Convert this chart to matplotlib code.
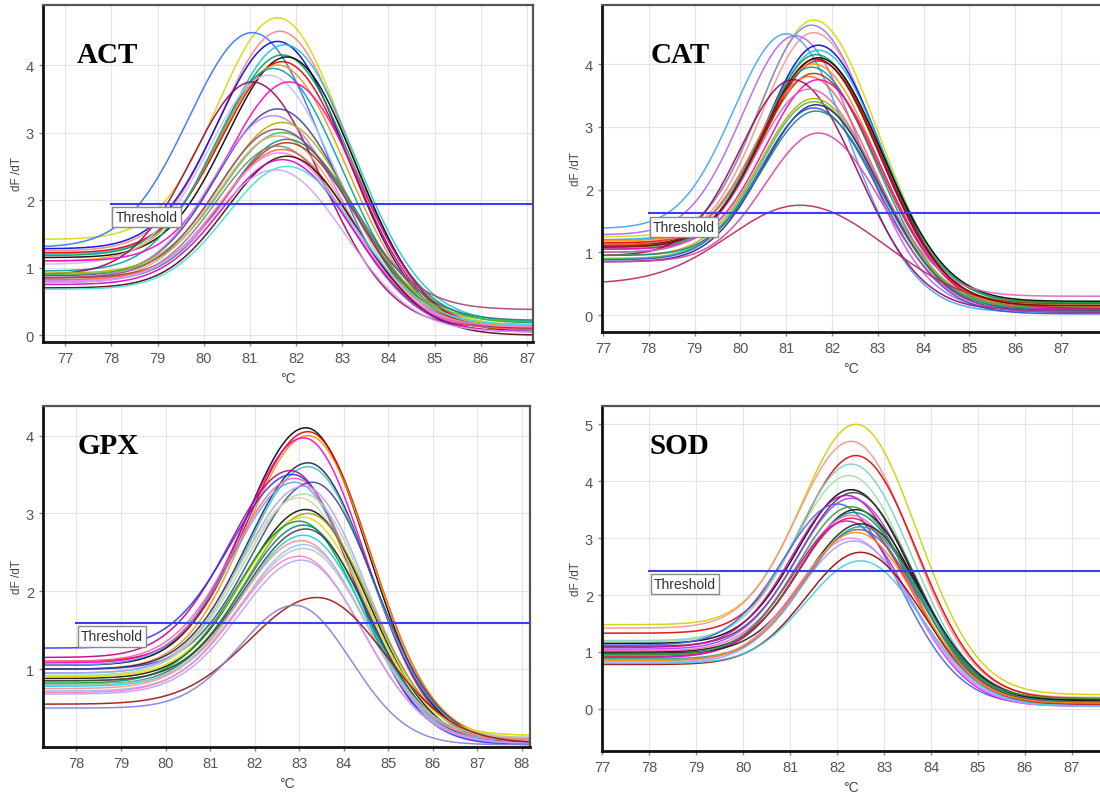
import numpy as np
import matplotlib
matplotlib.use("Agg")
import matplotlib.pyplot as plt

# melt peak parameters: peak temp, peak height,
# left baseline, right tail level, width factor
ACT_TM = [81.6, 81.05, 81.65, 81.6, 81.75, 81.7, 81.8, 81.7, 81.6, 81.5, 81.4, 81.05, 81.85, 81.6,
          81.5, 81.7, 81.7, 81.6, 81.8, 81.8, 81.6, 81.7, 81.65, 81.8, 81.7, 81.8, 81.55, 81.6]
ACT_PEAK = [4.70, 4.48, 4.50, 4.35, 4.30, 4.15, 4.12, 4.05, 4.00, 3.95, 3.85, 3.75, 3.75, 3.35,
            3.25, 3.15, 3.00, 2.95, 2.90, 2.85, 2.80, 2.75, 2.70, 2.65, 2.60, 2.50, 2.45, 3.05]
ACT_BASE = [1.42, 1.30, 1.25, 1.28, 1.20, 1.18, 1.15, 1.22, 1.10, 0.95, 1.05, 0.90, 1.10, 0.88,
            0.85, 0.92, 0.90, 0.82, 0.80, 0.85, 0.78, 0.82, 0.80, 0.70, 0.75, 0.68, 0.78, 0.85]
ACT_TAIL = [0.15, 0.10, 0.12, 0.08, 0.20, 0.18, 0.05, 0.10, 0.12, 0.15, 0.10, 0.12, 0.08, 0.10,
            0.05, 0.12, 0.20, 0.15, 0.22, 0.10, 0.05, 0.08, 0.12, 0.00, 0.05, 0.15, 0.05, 0.38]
ACT_WIDTH = [1.0, 1.05, 1.0, 1.0, 1.0, 1.0, 1.0, 1.0, 1.0, 1.0, 1.0, 1.0, 1.0, 1.0,
             1.0, 1.0, 1.0, 1.0, 1.0, 1.0, 1.0, 1.0, 1.0, 1.0, 1.0, 1.0, 1.0, 1.0]
ACT_THRESHOLD = 1.94

CAT_TM = [81.6, 81.55, 81.6, 81.0, 81.2, 81.7, 81.7, 81.65, 81.7, 81.7, 81.6, 81.55, 81.6,
          81.5, 81.7, 81.15, 81.6, 81.6, 81.65, 81.6, 81.65, 81.7, 81.3, 81.5, 81.65]
CAT_PEAK = [4.70, 4.62, 4.50, 4.48, 4.45, 4.30, 4.22, 4.15, 4.10, 4.05, 4.00, 3.95, 3.85,
            3.80, 3.75, 3.75, 3.45, 3.40, 3.35, 3.30, 3.25, 2.90, 1.75, 3.60, 4.08]
CAT_BASE = [1.25, 1.20, 1.15, 1.38, 1.28, 1.10, 1.20, 1.05, 1.12, 1.15, 1.18, 1.00, 1.10,
            1.12, 1.05, 0.95, 0.95, 0.90, 0.85, 0.88, 0.95, 0.85, 0.50, 1.00, 1.08]
CAT_TAIL = [0.20, 0.10, 0.15, 0.05, 0.08, 0.05, 0.18, 0.20, 0.22, 0.12, 0.15, 0.10, 0.18,
            0.12, 0.10, 0.08, 0.15, 0.12, 0.05, 0.02, 0.08, 0.05, 0.10, 0.30, 0.15]
CAT_WIDTH = [1.0, 1.0, 1.0, 1.0, 1.0, 1.0, 1.0, 1.0, 1.0, 1.0, 1.0, 1.0, 1.0,
             1.0, 1.0, 1.0, 1.0, 1.0, 1.0, 1.0, 1.0, 1.0, 1.35, 1.0, 1.0]
CAT_THRESHOLD = 1.62

GPX_TM = [83.15, 83.2, 83.2, 83.1, 83.2, 83.2, 82.8, 82.85, 82.9, 82.9, 83.3, 83.1, 83.1, 83.0,
          83.15, 83.2, 83.1, 83.0, 83.1, 83.15, 83.1, 83.05, 83.1, 83.1, 83.0, 83.05, 83.4, 82.9]
GPX_PEAK = [4.10, 4.05, 4.00, 3.97, 3.65, 3.60, 3.55, 3.50, 3.45, 3.40, 3.40, 3.35, 3.25, 3.20,
            3.05, 3.00, 2.95, 2.90, 2.85, 2.80, 2.72, 2.65, 2.60, 2.55, 2.45, 2.40, 1.92, 1.82]
GPX_BASE = [1.05, 1.10, 1.00, 1.08, 1.00, 0.95, 1.15, 1.27, 1.10, 1.05, 1.00, 0.95, 0.92, 0.90,
            0.88, 0.85, 0.90, 0.82, 0.80, 0.85, 0.78, 0.75, 0.72, 0.80, 0.70, 0.68, 0.55, 0.50]
GPX_TAIL = [0.05, 0.08, 0.10, 0.05, 0.05, 0.10, 0.05, 0.03, 0.08, 0.05, 0.08, 0.10, 0.12, 0.15,
            0.05, 0.10, 0.15, 0.08, 0.05, 0.05, 0.08, 0.10, 0.05, 0.12, 0.08, 0.05, 0.05, 0.03]
GPX_WIDTH = [1.0, 1.0, 1.0, 1.0, 1.0, 1.0, 1.0, 1.0, 1.0, 1.0, 1.0, 1.0, 1.0, 1.0,
             1.0, 1.0, 1.0, 1.0, 1.0, 1.0, 1.0, 1.0, 1.0, 1.0, 1.0, 1.0, 1.1, 0.9]
GPX_THRESHOLD = 1.59

SOD_TM = [82.4, 82.3, 82.4, 82.3, 82.25, 82.3, 82.35, 82.2, 82.3, 82.0, 82.4, 82.35,
          82.3, 82.3, 82.2, 82.5, 82.5, 82.45, 82.3, 82.35, 82.5, 82.5, 82.3, 82.4]
SOD_PEAK = [5.00, 4.70, 4.45, 4.30, 4.10, 3.85, 3.80, 3.75, 3.70, 3.60, 3.50, 3.45,
            3.40, 3.35, 3.30, 3.25, 3.20, 3.15, 3.00, 2.95, 2.75, 2.60, 3.55, 3.10]
SOD_BASE = [1.48, 1.42, 1.33, 1.20, 1.18, 1.15, 1.10, 1.08, 1.05, 1.12, 1.00, 0.95,
            1.02, 0.92, 0.90, 0.98, 0.88, 0.85, 0.82, 0.80, 0.78, 0.80, 0.95, 0.85]
SOD_TAIL = [0.25, 0.20, 0.18, 0.15, 0.12, 0.15, 0.12, 0.10, 0.10, 0.08, 0.15, 0.12,
            0.10, 0.08, 0.05, 0.15, 0.10, 0.12, 0.05, 0.05, 0.10, 0.05, 0.18, 0.10]
SOD_WIDTH = [1.0] * 24
SOD_THRESHOLD = 2.42

# line colours, one per curve
ACT_COLORS = ['#d8d800', '#3070ff', '#ff8080', '#0000e0', '#20c0e0', '#00a050', '#000000',
              '#e00000', '#ff9000', '#00a0a0', '#c0c0ff', '#a00050', '#ff00c0', '#4040a0',
              '#c080ff', '#b0b000', '#40c040', '#d0b080', '#208080', '#a04000', '#808080',
              '#ff6040', '#ff80ff', '#500000', '#d000d0', '#40e0e0', '#d0a0ff', '#a04080']
CAT_COLORS = ['#d8d800', '#8080ff', '#ff9090', '#40a0ff', '#b060ff', '#0000e0', '#20c0e0',
              '#00a050', '#000000', '#e00000', '#ff9000', '#00a0a0', '#a04000', '#ff6040',
              '#ff00c0', '#a00050', '#b0b000', '#40c040', '#202080', '#3050d0', '#208080',
              '#e040a0', '#c02060', '#e060c0', '#800000']
GPX_COLORS = ['#000000', '#e00000', '#ff9000', '#ff00c0', '#202060', '#40c0c0', '#c00080',
              '#3030ff', '#ff60a0', '#60a0ff', '#4040a0', '#b0a0ff', '#a0e0a0', '#e0d0a0',
              '#101010', '#a0a000', '#e0e000', '#00a040', '#008080', '#404040', '#20d0e0',
              '#ff9080', '#90c0ff', '#c0c0c0', '#ff80c0', '#c0a0ff', '#a01010', '#8080e0']
SOD_COLORS = ['#d0d000', '#ff9090', '#e00000', '#80d0c0', '#a0e0a0', '#000000', '#404040',
              '#e000a0', '#a040ff', '#4060ff', '#101010', '#009090', '#ff60c0', '#d02020',
              '#e000e0', '#202020', '#20a0a0', '#3080a0', '#ff80ff', '#a0a0ff', '#a00000',
              '#40d0e0', '#30a030', '#ff9000']


def melt(x, tm, peak, base, tail, sl, sr):
    # asymmetric peak sitting on the left baseline before tm and on the tail after it
    d = x - tm
    left = base + (peak - base) * np.exp(-0.5 * (d / sl) ** 2)
    right = tail + (peak - tail) * np.exp(-0.5 * (d / sr) ** 2)
    return np.where(d < 0, left, right)


fig = plt.figure(figsize=(11, 8.03), dpi=100)

panels = [
    ('ACT', [0.0391, 0.5729, 0.4455, 0.4197], (76.52, 87.13), (-0.10, 4.89), range(77, 88), range(0, 5),
     ACT_TM, ACT_PEAK, ACT_BASE, ACT_TAIL, ACT_WIDTH, ACT_COLORS, ACT_THRESHOLD, 1.3, 1.5, (0.069, 0.831), True),
    ('CAT', [0.5473, 0.5853, 0.4527, 0.4072], (76.98, 87.85), (-0.27, 4.94), range(77, 88), range(0, 5),
     CAT_TM, CAT_PEAK, CAT_BASE, CAT_TAIL, CAT_WIDTH, CAT_COLORS, CAT_THRESHOLD, 1.15, 1.4, (0.097, 0.826), False),
    ('GPX', [0.0391, 0.0685, 0.4427, 0.4247], (77.25, 88.18), (0.0, 4.38), range(78, 89), range(1, 5),
     GPX_TM, GPX_PEAK, GPX_BASE, GPX_TAIL, GPX_WIDTH, GPX_COLORS, GPX_THRESHOLD, 1.37, 1.4, (0.072, 0.862), True),
    ('SOD', [0.5473, 0.0635, 0.4527, 0.4296], (76.99, 87.6), (-0.74, 5.32), range(77, 88), range(0, 6),
     SOD_TM, SOD_PEAK, SOD_BASE, SOD_TAIL, SOD_WIDTH, SOD_COLORS, SOD_THRESHOLD, 1.15, 1.3, (0.096, 0.864), False),
]

for (name, rect, xlim, ylim, xt, yt, tms, peaks, bases, tails, widths, colors,
     thr, sl, sr, lab, right_spine) in panels:
    ax = fig.add_axes(rect)
    x = np.linspace(xlim[0], xlim[1], 500)
    for tm, pk, b0, b1, w, c in zip(tms, peaks, bases, tails, widths, colors):
        ax.plot(x, melt(x, tm, pk, b0, b1, sl * w, sr * w), color=c, lw=1.1, alpha=0.9)

    ax.plot([78, xlim[1]], [thr, thr], color='#3c3cf0', lw=1.5, zorder=5)
    ax.annotate('Threshold', xy=(78, thr), xytext=(3, -4.5), textcoords='offset points',
                ha='left', va='top', fontsize=10, color='#333333', family='Liberation Sans',
                bbox=dict(boxstyle='square,pad=0.22', fc='white', ec='#8a8a8a', lw=1), zorder=6)

    ax.text(lab[0], lab[1], name, transform=ax.transAxes, fontsize=21, fontweight='bold',
            family='Liberation Serif', ha='left', va='baseline', zorder=7)

    ax.set_xlim(*xlim)
    ax.set_ylim(*ylim)
    ax.set_xticks(list(xt))
    ax.set_yticks(list(yt))
    ax.grid(True, color='#e4e4e4', lw=0.8)
    ax.set_axisbelow(True)
    ax.tick_params(labelsize=10.5, labelcolor='#555555', color='#888888', length=3, width=1)
    for t in ax.get_xticklabels() + ax.get_yticklabels():
        t.set_family('Liberation Sans')
    ax.set_xlabel('°C', fontsize=10, color='#444444', labelpad=4, family='Liberation Sans')
    ax.set_ylabel('dF /dT', fontsize=8.5, color='#444444', labelpad=2, family='Liberation Sans')

    ax.spines['left'].set_linewidth(2.0)
    ax.spines['bottom'].set_linewidth(2.0)
    ax.spines['left'].set_color('#111111')
    ax.spines['bottom'].set_color('#111111')
    ax.spines['top'].set_linewidth(1.6)
    ax.spines['top'].set_color('#555555')
    ax.spines['right'].set_linewidth(1.6)
    ax.spines['right'].set_color('#555555')
    ax.spines['right'].set_visible(right_spine)

fig.savefig('out.png', dpi=100)
